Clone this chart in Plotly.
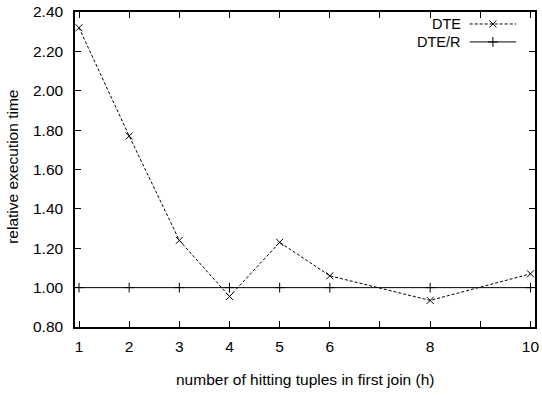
import plotly.graph_objects as go

h_vals = [1, 2, 3, 4, 5, 6, 8, 10]
dte = [2.32, 1.77, 1.24, 0.955, 1.23, 1.06, 0.935, 1.07]
dte_r = [1.0, 1.0, 1.0, 1.0, 1.0, 1.0, 1.0, 1.0]
x_ticks = [1, 2, 3, 4, 5, 6, 7, 8, 9, 10]
x_ticktext = ["1", "2", "3", "4", "5", "6", "", "8", "", "10"]
y_ticks = [0.8, 1.0, 1.2, 1.4, 1.6, 1.8, 2.0, 2.2, 2.4]
y_ticktext = ["0.80", "1.00", "1.20", "1.40", "1.60", "1.80", "2.00", "2.20", "2.40"]

FONT = "Liberation Sans, Arial, sans-serif"
FS = 15.5
LFS = 14.5
MS = 7

fig = go.Figure()
fig.add_trace(go.Scatter(x=h_vals, y=dte_r, mode="lines+markers", name="DTE/R",
                         line=dict(color="black", width=1),
                         marker=dict(symbol="cross-thin", size=MS, line=dict(color="black", width=1))))
fig.add_trace(go.Scatter(x=h_vals, y=dte, mode="lines+markers", name="DTE",
                         line=dict(color="black", width=1, dash="3px,2px"),
                         marker=dict(symbol="x-thin", size=MS, line=dict(color="black", width=1))))

# custom gnuplot-style legend (text then sample) on overlay axes
legend_rows = [("DTE", 0.962, "3px,2px", "x-thin"), ("DTE/R", 0.905, "solid", "cross-thin")]
for name, yy, dash, sym in legend_rows:
    fig.add_trace(go.Scatter(x=[0.858, 0.959], y=[yy, yy], xaxis="x2", yaxis="y2", mode="lines",
                             line=dict(color="black", width=1, dash=dash), showlegend=False, hoverinfo="skip"))
    fig.add_trace(go.Scatter(x=[0.9085], y=[yy], xaxis="x2", yaxis="y2", mode="markers",
                             marker=dict(symbol=sym, size=MS, line=dict(color="black", width=1)),
                             showlegend=False, hoverinfo="skip"))
    fig.add_annotation(x=0.842, y=yy, xref="paper", yref="paper", text=name, showarrow=False,
                       xanchor="right", yanchor="middle", borderpad=0,
                       font=dict(family=FONT, size=LFS, color="black"))

axis_common = dict(showline=True, linecolor="black", linewidth=1.5, mirror="allticks",
                   ticks="inside", ticklen=6, tickwidth=1, tickcolor="black",
                   showgrid=False, zeroline=False,
                   tickfont=dict(family=FONT, size=FS, color="black"))

fig.update_layout(
    width=542, height=395,
    margin=dict(l=75, r=3, t=12, b=68),
    paper_bgcolor="white", plot_bgcolor="white",
    showlegend=False,
    xaxis=dict(range=[0.92, 10.09], tickmode="array", tickvals=x_ticks, ticktext=x_ticktext,
               ticklabelstandoff=5, **axis_common),
    yaxis=dict(range=[0.8, 2.4], tickmode="array", tickvals=y_ticks, ticktext=y_ticktext,
               ticklabelstandoff=7, **axis_common),
    xaxis2=dict(range=[0, 1], overlaying="x", visible=False, fixedrange=True),
    yaxis2=dict(range=[0, 1], overlaying="y", visible=False, fixedrange=True),
)

fig.add_annotation(x=0.5, y=-0.168, xref="paper", yref="paper", yanchor="middle",
                   text="number of hitting tuples in first join (h)", showarrow=False,
                   font=dict(family=FONT, size=FS, color="black"))
fig.add_annotation(x=-0.136, y=0.51, xref="paper", yref="paper", textangle=-90, xanchor="center",
                   text="relative execution time", showarrow=False,
                   font=dict(family=FONT, size=FS, color="black"))

fig.write_html("out.html")
